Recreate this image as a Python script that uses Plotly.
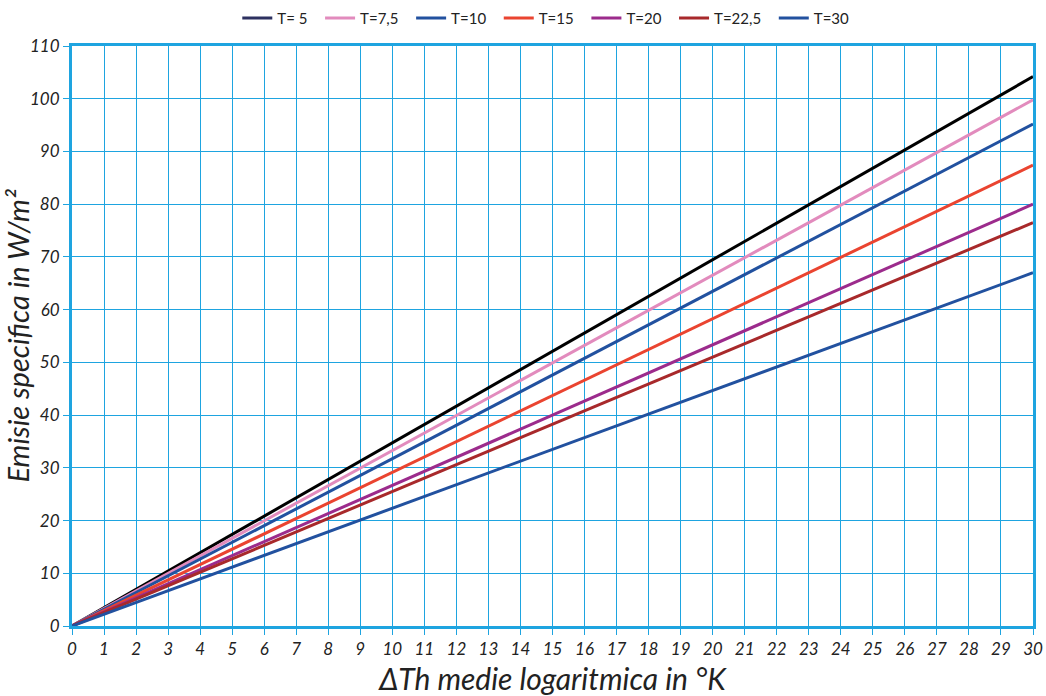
import plotly.graph_objects as go

names = ["T= 5", "T=7,5", "T=10", "T=15", "T=20", "T=22,5", "T=30"]
end_values = [104.2, 99.8, 95.2, 87.4, 80.0, 76.5, 67.0]
x_range = [0, 30]
line_colors = ["#000000", "#e28bbd", "#22519f", "#ea4430", "#9c2b8c", "#a8292b", "#22519f"]
legend_colors = ["#2d3160", "#e28bbd", "#22519f", "#ea4430", "#9c2b8c", "#a8292b", "#22519f"]

grid_c = "#1ea4e0"
font_family = "Lato"

fig = go.Figure()
for n, v, lc in zip(names, end_values, line_colors):
    fig.add_trace(go.Scatter(x=x_range, y=[0, v], mode="lines", line=dict(color=lc, width=3),
                             name=n, showlegend=False))
for n, c in zip(names, legend_colors):
    fig.add_trace(go.Scatter(x=[None], y=[None], mode="lines", line=dict(color=c, width=3),
                             name=n + "  ", showlegend=True))

fig.update_layout(
    width=1046, height=696,
    margin=dict(l=72, r=13, t=46, b=70, autoexpand=False),
    plot_bgcolor="white", paper_bgcolor="white",
    font=dict(family=font_family, color="#222222", size=15),
    legend=dict(orientation="h", x=0.172, y=1.048, xanchor="left", yanchor="middle",
                font=dict(size=15, family=font_family),
                itemwidth=30, traceorder="normal", bgcolor="rgba(0,0,0,0)"),
    showlegend=True,
)
fig.update_xaxes(range=[0, 30], dtick=1, tick0=0, showgrid=True, gridcolor=grid_c, gridwidth=1.2,
                 showline=True, linecolor=grid_c, linewidth=3, mirror=True, automargin=False,
                 ticks="outside", ticklen=6, tickcolor=grid_c, tickwidth=1.2,
                 tickfont=dict(size=17, style="italic"), zeroline=False,
                 title=dict(text="ΔTh medie logaritmica in °K", font=dict(size=30, style="italic"), standoff=16))
fig.update_yaxes(range=[0, 110], dtick=10, tick0=0, showgrid=True, gridcolor=grid_c, gridwidth=1.2,
                 showline=True, linecolor=grid_c, linewidth=3, mirror=True, automargin=False,
                 ticks="outside", ticklen=6, tickcolor=grid_c, tickwidth=1.2,
                 tickfont=dict(size=17, style="italic"), zeroline=False,
                 title=dict(text="Emisie specifica in W/m²", font=dict(size=29, style="italic"), standoff=10))

fig.write_html("out.html")
